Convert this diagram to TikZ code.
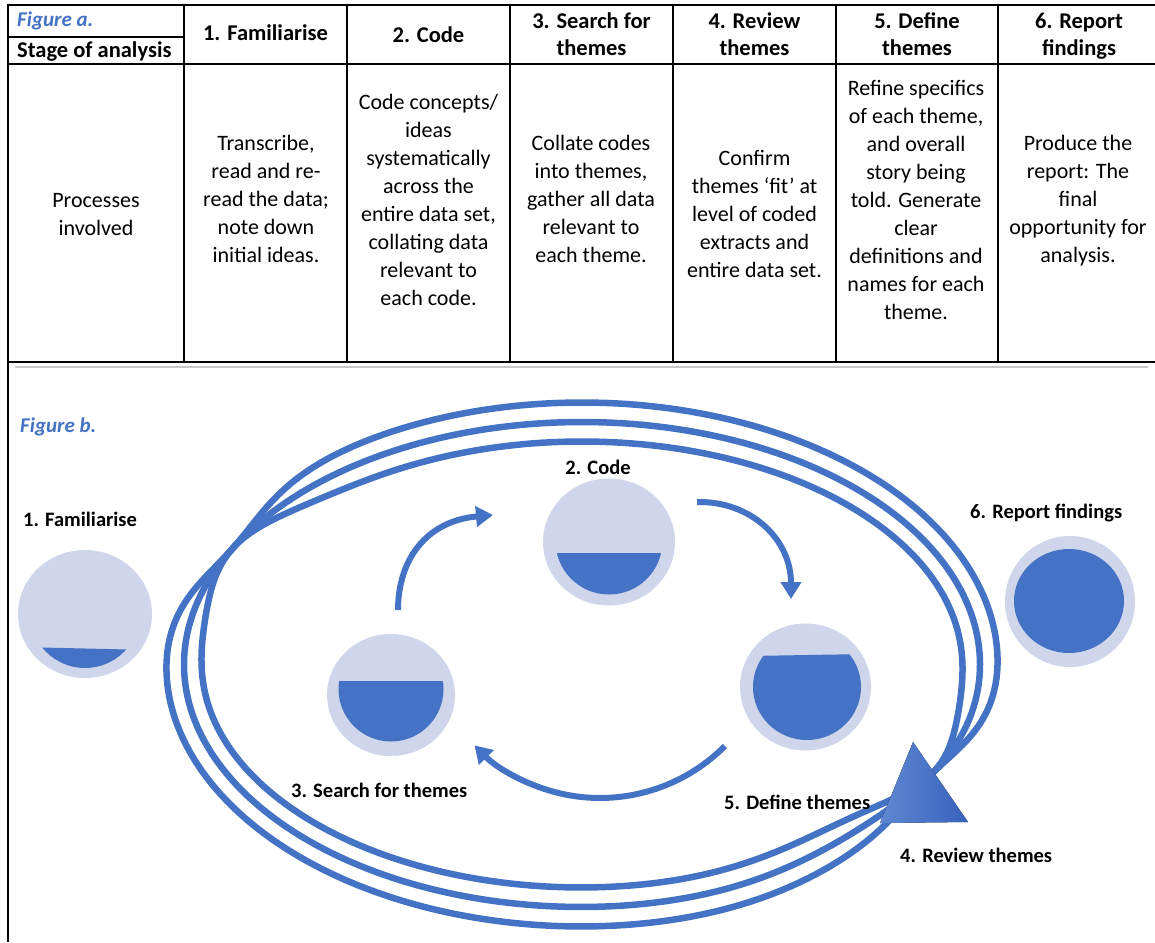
\documentclass[tikz,border=0pt]{standalone}
\usepackage{fontspec}
\setmainfont{Carlito}
\usetikzlibrary{arrows.meta,shapes.geometric}

\definecolor{officeblue}{RGB}{68,114,196}
\definecolor{ringfill}{RGB}{207,213,234}
\definecolor{trilight}{RGB}{96,136,210}
\definecolor{tridark}{RGB}{54,98,186}
\definecolor{sepgrey}{RGB}{200,200,200}

\tikzset{
  rule/.style={line width=2.4pt, draw=black},
  cell/.style={align=center, inner sep=0pt, anchor=base, font=\fontsize{22}{28}\selectfont},
  headcell/.style={align=center, inner sep=0pt, anchor=base, font=\bfseries\fontsize{22.5}{27}\selectfont},
  figlabel/.style={inner sep=0pt, anchor=base west, text=officeblue, font=\bfseries\itshape\fontsize{21}{24}\selectfont},
  stagelabel/.style={inner sep=0pt, font=\bfseries\fontsize{20.5}{24}\selectfont},
  ring/.style={ellipse, fill=ringfill, draw=none, inner sep=0pt},
  loopline/.style={line width=6.5pt, draw=officeblue, line join=round},
  cyclearrow/.style={line width=6pt, draw=officeblue, -{Triangle[width=20pt,length=17pt]}},
  % review loops: an ellipse family drawn smoothly together at two opposite
  % points, with a small dent near the review arrowhead
  declare function={
    pinch(\t)=1-exp(-min(sin(\t-151.5)*sin(\t-151.5)*16,20));
    dent(\t)=exp(-min(((\t+42)/20)*((\t+42)/20),20))+exp(-min(((\t-318)/20)*((\t-318)/20),20));
    loopx(\t,\k)=582+398*cos(\t)+\k*18*pinch(\t)*cos(\t);
    loopy(\t,\k)=664.5-242.5*sin(\t)-\k*19.5*pinch(\t)*sin(\t)-10*dent(\t);
  }
}

\begin{document}
\begin{tikzpicture}[x=1pt, y=-1pt]
\useasboundingbox (0,0) rectangle (1155,942);

% ---------- table (Figure a) ----------
\draw[rule] (8,5) -- (1155,5);
\draw[rule] (8,64) -- (1155,64);
\draw[rule] (8,362) -- (1155,362);
\draw[rule] (8,3.8) -- (8,942);
\draw[rule] (8,37) -- (184,37);
\foreach \cx in {184,347,510,673,836,998}
  \draw[rule] (\cx,5) -- (\cx,362);
\draw[line width=1.6pt, draw=sepgrey] (15,367) -- (1148,367);

% multi-line cells are placed by the baseline of their last line
\node[figlabel] (figa) at (17,27) {Figure a.};
\node[headcell, anchor=base west] (hstage) at (17,57) {Stage of analysis};
\node[headcell] (h1) at (265.5,41) {1. Familiarise};
\node[headcell] (h2) at (428.5,43) {2. Code};
\node[headcell] (h3) at (591.5,56) {3. Search for\\themes};
\node[headcell] (h4) at (754.5,56) {4. Review\\themes};
\node[headcell] (h5) at (917,56) {5. Define\\themes};
\node[headcell] (h6) at (1079,56) {6. Report\\findings};

\node[cell] (p0) at (96,235) {Processes\\involved};
\node[cell] (p1) at (266,262) {Transcribe,\\read and re-\\read the data;\\note down\\initial ideas.};
\node[cell] (p2) at (428.5,305) {Code concepts/\\ideas\\systematically\\across the\\entire data set,\\collating data\\relevant to\\each code.};
\node[cell] (p3) at (591,262) {Collate codes\\into themes,\\gather all data\\relevant to\\each theme.};
\node[cell] (p4) at (754.5,277) {Confirm\\themes ‘fit’ at\\level of coded\\extracts and\\entire data set.};
\node[cell] (p5) at (916,319) {Refine specifics\\of each theme,\\and overall\\story being\\told. Generate\\clear\\definitions and\\names for each\\theme.};
\node[cell] (p6) at (1078,262) {Produce the\\report: The\\final\\opportunity for\\analysis.};

% ---------- cycle diagram (Figure b) ----------
\node[figlabel] (figb) at (20,432) {Figure b.};

\foreach \k in {1,0,-1}
  \draw[loopline] plot[domain=-28.5:331.5, samples=241, variable=\t]
    ({loopx(\t,\k)}, {loopy(\t,\k)}) -- cycle;

% stage circles: light ring with a blue fill level
\node[ring, minimum width=134pt, minimum height=128pt] (c1) at (85,614) {};
\begin{scope}
  \clip (85,613) circle[radius=55];
  \fill[officeblue] (20,647) -- (150,650) -- (150,680) -- (20,680) -- cycle;
\end{scope}

\node[ring, minimum width=132pt, minimum height=127pt] (c2) at (609,542) {};
\begin{scope}
  \clip (609,541) circle[radius=53.5];
  \fill[officeblue] (550,553) rectangle (670,600);
\end{scope}

\node[ring, minimum width=128pt, minimum height=122pt] (c3) at (391,695) {};
\begin{scope}
  \clip (391,689) circle[radius=52.5];
  \fill[officeblue] (330,681) rectangle (450,745);
\end{scope}

\node[ring, minimum width=131pt, minimum height=127pt] (c5) at (805.5,687) {};
\begin{scope}
  \clip (807,687) ellipse[x radius=54, y radius=53];
  \fill[officeblue] (750,656) -- (865,654) -- (865,745) -- (750,745) -- cycle;
\end{scope}

\node[ring, minimum width=130pt, minimum height=131pt] (c6) at (1070,601.5) {};
\fill[officeblue] (1069,601) ellipse[x radius=55, y radius=52];

% cycle arrows between the stages
\coordinate (a32s) at (398,610);
\coordinate (a32e) at (493,515);
\coordinate (a25s) at (697,502);
\coordinate (a25e) at (791,599);
\coordinate (a53s) at (724.9,746);

\draw[cyclearrow] (a32s) .. controls (398,560) and (426,521) .. (a32e);
\draw[cyclearrow] (a25s) .. controls (752,501) and (791,540) .. (a25e);
\draw[cyclearrow] (a53s) arc[start angle=44.8, end angle=135.5, radius=176];

% review arrowhead
\fill[left color=trilight, right color=tridark] (913,742) -- (968,822) -- (880,823) -- cycle;

% stage labels
\node[stagelabel, anchor=base west] (l1) at (23,526) {1. Familiarise};
\node[stagelabel, anchor=base] (l2) at (598,474) {2. Code};
\node[stagelabel, anchor=base west] (l3) at (291,797) {3. Search for themes};
\node[stagelabel, anchor=base west] (l5) at (724,809) {5. Define themes};
\node[stagelabel, anchor=base west] (l4) at (900,862) {4. Review themes};
\node[stagelabel, anchor=base west] (l6) at (970,518) {6. Report findings};
\end{tikzpicture}
\end{document}
